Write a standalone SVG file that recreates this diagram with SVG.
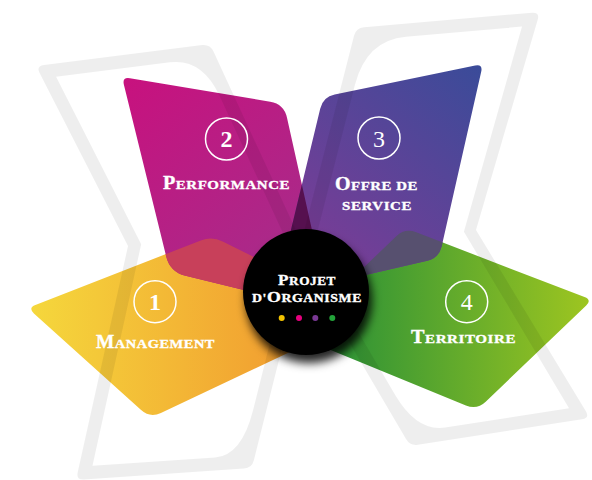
<svg xmlns="http://www.w3.org/2000/svg" width="592" height="480" viewBox="0 0 592 480">
<style>
.lbl{font-family:"Liberation Serif","Times New Roman",serif;font-weight:bold;fill:#fff;stroke:#fff;stroke-width:0.35px;letter-spacing:0.5px}
.big{font-size:18px}
.sm{font-size:13.4px}
.cbig{font-size:15.5px}
.csm{font-size:12px}
.ring{fill:none;stroke:#fff;stroke-width:1.5}
.num{font-family:"Liberation Serif","Times New Roman",serif;font-size:24px;fill:#fff;text-anchor:middle}
.bg{fill:#000;fill-opacity:0.065;fill-rule:evenodd}
</style>
<defs>
<linearGradient id="gY" gradientUnits="userSpaceOnUse" x1="28" y1="0" x2="320" y2="0">
<stop offset="0" stop-color="#f5d83c"/><stop offset="1" stop-color="#f1962f"/>
</linearGradient>
<linearGradient id="gG" gradientUnits="userSpaceOnUse" x1="300" y1="0" x2="592" y2="0">
<stop offset="0" stop-color="#1d8b39"/><stop offset="1" stop-color="#9fc620"/>
</linearGradient>
<linearGradient id="gM" gradientUnits="userSpaceOnUse" x1="122" y1="77" x2="310" y2="300">
<stop offset="0" stop-color="#c8117e"/><stop offset="1" stop-color="#a2308c"/>
</linearGradient>
<linearGradient id="gP" gradientUnits="userSpaceOnUse" x1="290" y1="290" x2="480" y2="70">
<stop offset="0" stop-color="#853a96"/><stop offset="1" stop-color="#3b4b99"/>
</linearGradient>
<clipPath id="cM"><path d="M123.9,84.8 Q122,77 129.9,78.3 L270.2,101.7 Q284,104 287,117.7 L330,311 L185.5,275.8 Q170,272 166.2,256.5 Z"/></clipPath>
<clipPath id="cG"><path d="M396.3,236.3 Q405,228 416.2,232.3 L584.5,297.1 Q592,300 586.2,305.5 L485.7,401.7 Q477,410 465.9,405.4 L293.5,334.7 Z"/></clipPath>
<filter id="sh" x="-40%" y="-40%" width="180%" height="180%">
<feDropShadow dx="3" dy="8" stdDeviation="5" flood-color="#000" flood-opacity="0.85"/>
</filter>
</defs>
<rect width="592" height="480" fill="#fff"/>

<g id="node-1">
<path d="M35.4,305.1 L200.8,240.4 Q212,236 222.7,241.4 L320,290 L330,333 L160.9,412.9 Q150,418 141.1,410 L33.9,313.4 Q28,308 35.4,305.1 Z" fill="url(#gY)"/>
</g>
<g id="node-4">
<path d="M396.3,236.3 Q405,228 416.2,232.3 L584.5,297.1 Q592,300 586.2,305.5 L485.7,401.7 Q477,410 465.9,405.4 L293.5,334.7 Z" fill="url(#gG)"/>
</g>
<g id="node-2">
<path d="M123.9,84.8 Q122,77 129.9,78.3 L270.2,101.7 Q284,104 287,117.7 L330,311 L185.5,275.8 Q170,272 166.2,256.5 Z" fill="url(#gM)"/>
</g>
<g id="node-3">
<path d="M320.2,108.7 Q323,97 334.7,94.6 L475.2,65.6 Q483,64 481.2,71.8 L441.7,246.3 Q439,258 427.3,260.7 L275,296 Z" fill="url(#gP)"/>
</g>

<g id="overlaps">
<path clip-path="url(#cM)" d="M35.4,305.1 L200.8,240.4 Q212,236 222.7,241.4 L320,290 L330,333 L160.9,412.9 Q150,418 141.1,410 L33.9,313.4 Q28,308 35.4,305.1 Z" fill="#c8405a"/>
<path clip-path="url(#cM)" d="M320.2,108.7 Q323,97 334.7,94.6 L475.2,65.6 Q483,64 481.2,71.8 L441.7,246.3 Q439,258 427.3,260.7 L275,296 Z" fill="#56104f"/>
<path clip-path="url(#cG)" d="M320.2,108.7 Q323,97 334.7,94.6 L475.2,65.6 Q483,64 481.2,71.8 L441.7,246.3 Q439,258 427.3,260.7 L275,296 Z" fill="#57506f"/>
</g>

<g id="background-logo">
<path class="bg" d="M39.6,73.1 Q36,66 43.9,65 L202.1,45 Q210,44 213.4,51.3 L306,252 L253.9,460.2 Q252,468 244,468.5 L84,479.5 Q76,480 77.7,472.2 L128,246 Z M56.1,76.7 L170,62.3 Q201.7,58.3 219.2,95 L292.3,253.3 L253.1,410 Q241.7,455.6 215,457.5 L92.5,465.8 L141.2,244.2 Z"/>
<path class="bg" d="M354,35.75 Q356,28 364,27.3 L532,12.7 Q540,12 537.7,19.7 L476,230 L585.9,411.2 Q590,418 582.1,419.2 L417.9,444.8 Q410,446 406,439.1 L298,255 Z M354.9,85 Q366.3,40.2 406,36.7 L522,26.6 L463.9,231.7 L569,408.2 L445,427.5 Q417,431.8 395.2,395 L312,253 Z"/>
</g>

<g id="connectors"></g>

<g id="label-2">
<circle class="ring" cx="226.5" cy="139" r="21"/>
<text class="num" x="226.5" y="147" font-weight="bold">2</text>
<text class="lbl" x="226.5" y="189" text-anchor="middle" textLength="127" lengthAdjust="spacingAndGlyphs"><tspan class="big">P</tspan><tspan class="sm">ERFORMANCE</tspan></text>
</g>
<g id="label-3">
<circle class="ring" cx="379" cy="138" r="21"/>
<text class="num" x="379" y="146.5">3</text>
<text class="lbl" x="376.5" y="190" text-anchor="middle" textLength="83" lengthAdjust="spacingAndGlyphs"><tspan class="big">O</tspan><tspan class="sm">FFRE DE</tspan></text>
<text class="lbl sm" x="377" y="209.5" text-anchor="middle" textLength="70" lengthAdjust="spacingAndGlyphs">SERVICE</text>
</g>
<g id="label-1">
<circle class="ring" cx="155" cy="301.7" r="21"/>
<text class="num" x="155" y="310" font-weight="bold">1</text>
<text class="lbl" x="155.5" y="347.5" text-anchor="middle" textLength="119" lengthAdjust="spacingAndGlyphs"><tspan class="big">M</tspan><tspan class="sm">ANAGEMENT</tspan></text>
</g>
<g id="label-4">
<circle class="ring" cx="466.7" cy="301.7" r="21"/>
<text class="num" x="466.7" y="310">4</text>
<text class="lbl" x="463.5" y="342.5" text-anchor="middle" textLength="105" lengthAdjust="spacingAndGlyphs"><tspan class="big">T</tspan><tspan class="sm">ERRITOIRE</tspan></text>
</g>

<g id="center">
<circle cx="306" cy="292" r="63" fill="#000" filter="url(#sh)"/>
<text class="lbl" x="307" y="285" text-anchor="middle" textLength="58" lengthAdjust="spacingAndGlyphs"><tspan class="cbig">P</tspan><tspan class="csm">ROJET</tspan></text>
<text class="lbl" x="307" y="302" text-anchor="middle" textLength="110" lengthAdjust="spacingAndGlyphs"><tspan class="csm">D'</tspan><tspan class="cbig">O</tspan><tspan class="csm">RGANISME</tspan></text>
<circle cx="281.7" cy="318" r="3" fill="#f2c200"/>
<circle cx="299" cy="318" r="3" fill="#e6007e"/>
<circle cx="315.3" cy="318" r="3" fill="#7a3994"/>
<circle cx="332.3" cy="318" r="3" fill="#23a33a"/>
</g>
</svg>
